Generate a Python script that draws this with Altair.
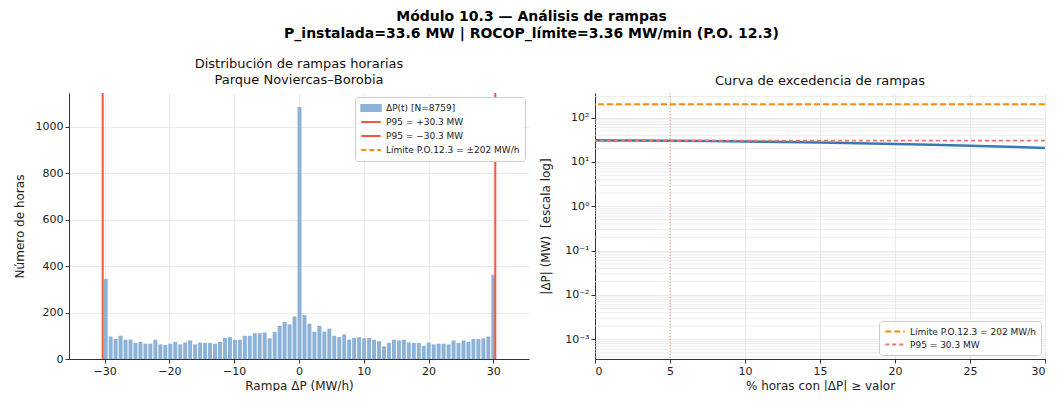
import altair as alt
import numpy as np
import pandas as pd

FONT = "DejaVu Sans"

# ---------------- left panel: histogram of hourly ramps ----------------
P95 = 30.3
LIMIT = 202
N_BINS = 79
COUNTS = [345, 97, 86, 100, 83, 83, 69, 74, 66, 66,
          83, 63, 60, 66, 74, 63, 71, 80, 63, 71,
          69, 69, 66, 74, 91, 94, 83, 83, 100, 100,
          111, 111, 114, 89, 117, 143, 160, 149, 183,
          1085,
          189, 152, 117, 143, 117, 131, 100, 94, 106, 83,
          91, 94, 89, 91, 83, 77, 54, 69, 83, 80,
          83, 71, 69, 69, 57, 71, 63, 66, 66, 63,
          80, 69, 80, 74, 86, 86, 89, 97, 363]
SERIES_L = ["ΔP(t) [N=8759]", "P95 = +30.3 MW", "P95 = −30.3 MW", "Límite P.O.12.3 = ±202 MW/h"]
COLORS_L = ["#8cb2d8", "#f4583f", "#f4583f", "#ff8c00"]
X_TICKS_L = [-30, -20, -10, 0, 10, 20, 30]
Y_TICKS_L = [0, 200, 400, 600, 800, 1000]

# ---------------- right panel: exceedance curve ----------------
PCT = [0, 1, 2.5, 5, 7.5, 10, 12.5, 15, 17.5, 20, 22.5, 25, 27.5, 30]
ABS_DP = [30.9, 30.7, 30.5, 30.3, 29.7, 29.0, 28.2, 27.4, 26.5, 25.5, 24.5, 23.4, 22.1, 20.8]
SERIES_R = ["Límite P.O.12.3 = 202 MW/h", "P95 = 30.3 MW"]
COLORS_R = ["#ff8c00", "#f4736a"]
DASH_R = [[6, 3], [4, 3]]
X_TICKS_R = [0, 5, 10, 15, 20, 25, 30]
Y_TICKS_R = [1e-3, 1e-2, 1e-1, 1, 10, 100]
DECADES = [-4, -3, -2, -1, 0, 1, 2]
MULTS = [2, 3, 4, 5, 6, 7, 8, 9]
Y_DOMAIN_R = [3.6e-4, 360]

edges = np.linspace(-P95, P95, N_BINS + 1)
hist_df = pd.DataFrame({"x0": edges[:-1], "x1": edges[1:], "n": COUNTS, "serie": SERIES_L[0]})
p95_df = pd.DataFrame({"x": [P95, -P95], "serie": [SERIES_L[1], SERIES_L[2]]})

leg_l = alt.Legend(
    title=None, orient="top-right", offset=4,
    fillColor="white", strokeColor="#cccccc", cornerRadius=3, padding=5,
    labelFont=FONT, labelFontSize=9, labelColor="#222222", rowPadding=2,
    clipHeight=12,
    symbolType={"expr": "datum.index === 0 ? 'M-1,-0.3H1V0.3H-1Z' : 'stroke'"},
    symbolStrokeColor={"expr": "datum.index === 3 ? '#ff8c00' : (datum.index === 0 ? '#8cb2d8' : '#f4583f')"},
    symbolDash={"expr": "datum.index === 3 ? [5, 3] : [1, 0]"},
    symbolStrokeWidth=2, symbolSize=380,
)
color_l = alt.Color("serie:N", scale=alt.Scale(domain=SERIES_L, range=COLORS_L), legend=leg_l)

TITLE_XL = "Rampa ΔP (MW/h)"
TITLE_YL = "Número de horas"
x_l = alt.X("x0:Q", bin="binned", title=TITLE_XL,
            scale=alt.Scale(domain=[-35.5, 35.5], nice=False, zero=False),
            axis=alt.Axis(values=X_TICKS_L, grid=True))
y_l = alt.Y("n:Q", title=TITLE_YL,
            scale=alt.Scale(domain=[0, 1145], nice=False),
            axis=alt.Axis(values=Y_TICKS_L, grid=True, titlePadding=9, format="d"))

bars = alt.Chart(hist_df).mark_bar(binSpacing=1).encode(x=x_l, x2="x1:Q", y=y_l, color=color_l)
p95_rules = alt.Chart(p95_df).mark_rule(strokeWidth=2).encode(
    x=alt.X("x:Q", title=TITLE_XL), color=color_l)

left = alt.layer(bars, p95_rules).properties(
    width=460, height=266,
    title=alt.TitleParams(["Distribución de rampas horarias", "Parque Noviercas–Borobia"],
                          fontSize=13, fontWeight="normal", font=FONT, lineHeight=16, offset=5,
                          color="#111111"),
)

# ---------------- right panel ----------------
curve_df = pd.DataFrame({"pct": PCT, "dp": ABS_DP})
minor_vals = [m * 10.0 ** d for d in DECADES for m in MULTS]
minor_vals = [v for v in minor_vals if Y_DOMAIN_R[0] <= v <= Y_DOMAIN_R[1]]
minor_df = pd.DataFrame({"y": minor_vals})
lim_df = pd.DataFrame({"y": [LIMIT], "serie": [SERIES_R[0]]})
p95r_df = pd.DataFrame({"y": [P95], "serie": [SERIES_R[1]]})
vline_df = pd.DataFrame({"x": [5]})

TITLE_XR = "% horas con |ΔP| ≥ valor"
TITLE_YR = "|ΔP| (MW)\u00a0 [escala log]"
y_scale_r = alt.Scale(type="log", domain=Y_DOMAIN_R, nice=False)
label_expr = ("datum.value >= 50 ? '10²' : datum.value >= 5 ? '10¹' : datum.value >= 0.5 ? '10⁰' : "
              "datum.value >= 0.05 ? '10⁻¹' : datum.value >= 0.005 ? '10⁻²' : '10⁻³'")
axis_yr = alt.Axis(values=Y_TICKS_R, labelExpr=label_expr, grid=True, titlePadding=12)
x_r = alt.X("pct:Q", title=TITLE_XR,
            scale=alt.Scale(domain=[0, 30], nice=False),
            axis=alt.Axis(values=X_TICKS_R, grid=True))

leg_r = alt.Legend(
    title=None, orient="bottom-right", offset=4,
    fillColor="white", strokeColor="#cccccc", cornerRadius=3, padding=5,
    labelFont=FONT, labelFontSize=9, labelColor="#222222", rowPadding=2,
    clipHeight=11,
    symbolType="stroke", symbolStrokeWidth=2, symbolSize=380,
)
color_r = alt.Color("serie:N", scale=alt.Scale(domain=SERIES_R, range=COLORS_R), legend=leg_r)
dash_r = alt.StrokeDash("serie:N", scale=alt.Scale(domain=SERIES_R, range=DASH_R), legend=leg_r)

minor_grid = alt.Chart(minor_df).mark_rule(color="#e4e4e4", strokeWidth=0.7).encode(
    y=alt.Y("y:Q", title=TITLE_YR, scale=y_scale_r, axis=axis_yr))
curve = alt.Chart(curve_df).mark_line(color="#3a78b5", strokeWidth=2.5).encode(
    x=x_r, y=alt.Y("dp:Q", title=TITLE_YR, scale=y_scale_r, axis=axis_yr))
vline = alt.Chart(vline_df).mark_rule(color="#f0916e", strokeDash=[1, 2], strokeWidth=1).encode(
    x=alt.X("x:Q", title=TITLE_XR))
lim_rule = alt.Chart(lim_df).mark_rule(strokeWidth=2).encode(
    y=alt.Y("y:Q", title=TITLE_YR), color=color_r, strokeDash=dash_r)
p95_rule_r = alt.Chart(p95r_df).mark_rule(strokeWidth=1.6).encode(
    y=alt.Y("y:Q", title=TITLE_YR), color=color_r, strokeDash=dash_r)

right = alt.layer(minor_grid, curve, vline, lim_rule, p95_rule_r).properties(
    width=450, height=266,
    title=alt.TitleParams("Curva de excedencia de rampas", fontSize=13, fontWeight="normal",
                          font=FONT, offset=5, color="#111111"),
)

chart = alt.hconcat(left, right, spacing=10).resolve_scale(
    x="independent", y="independent", color="independent", strokeDash="independent"
).resolve_legend(color="independent", strokeDash="independent").properties(
    title=alt.TitleParams(["Módulo 10.3 — Análisis de rampas",
                           "P_instalada=33.6 MW | ROCOP_límite=3.36 MW/min (P.O. 12.3)"],
                          fontSize=14, fontWeight="bold", font=FONT, lineHeight=17,
                          anchor="middle", offset=17, color="#000000"),
    padding={"left": 5, "top": 2, "right": 0, "bottom": 0},
).configure_view(strokeWidth=0).configure_axis(
    labelFont=FONT, titleFont=FONT, labelFontSize=11, titleFontSize=12,
    titleFontWeight="normal", labelColor="#222222", titleColor="#222222",
    domainColor="#333333", tickColor="#333333", tickSize=4, labelPadding=2,
    gridColor="#e6e6e6", gridWidth=0.8,
)

chart.save("out.html", embed_options={"renderer": "svg", "actions": False})
